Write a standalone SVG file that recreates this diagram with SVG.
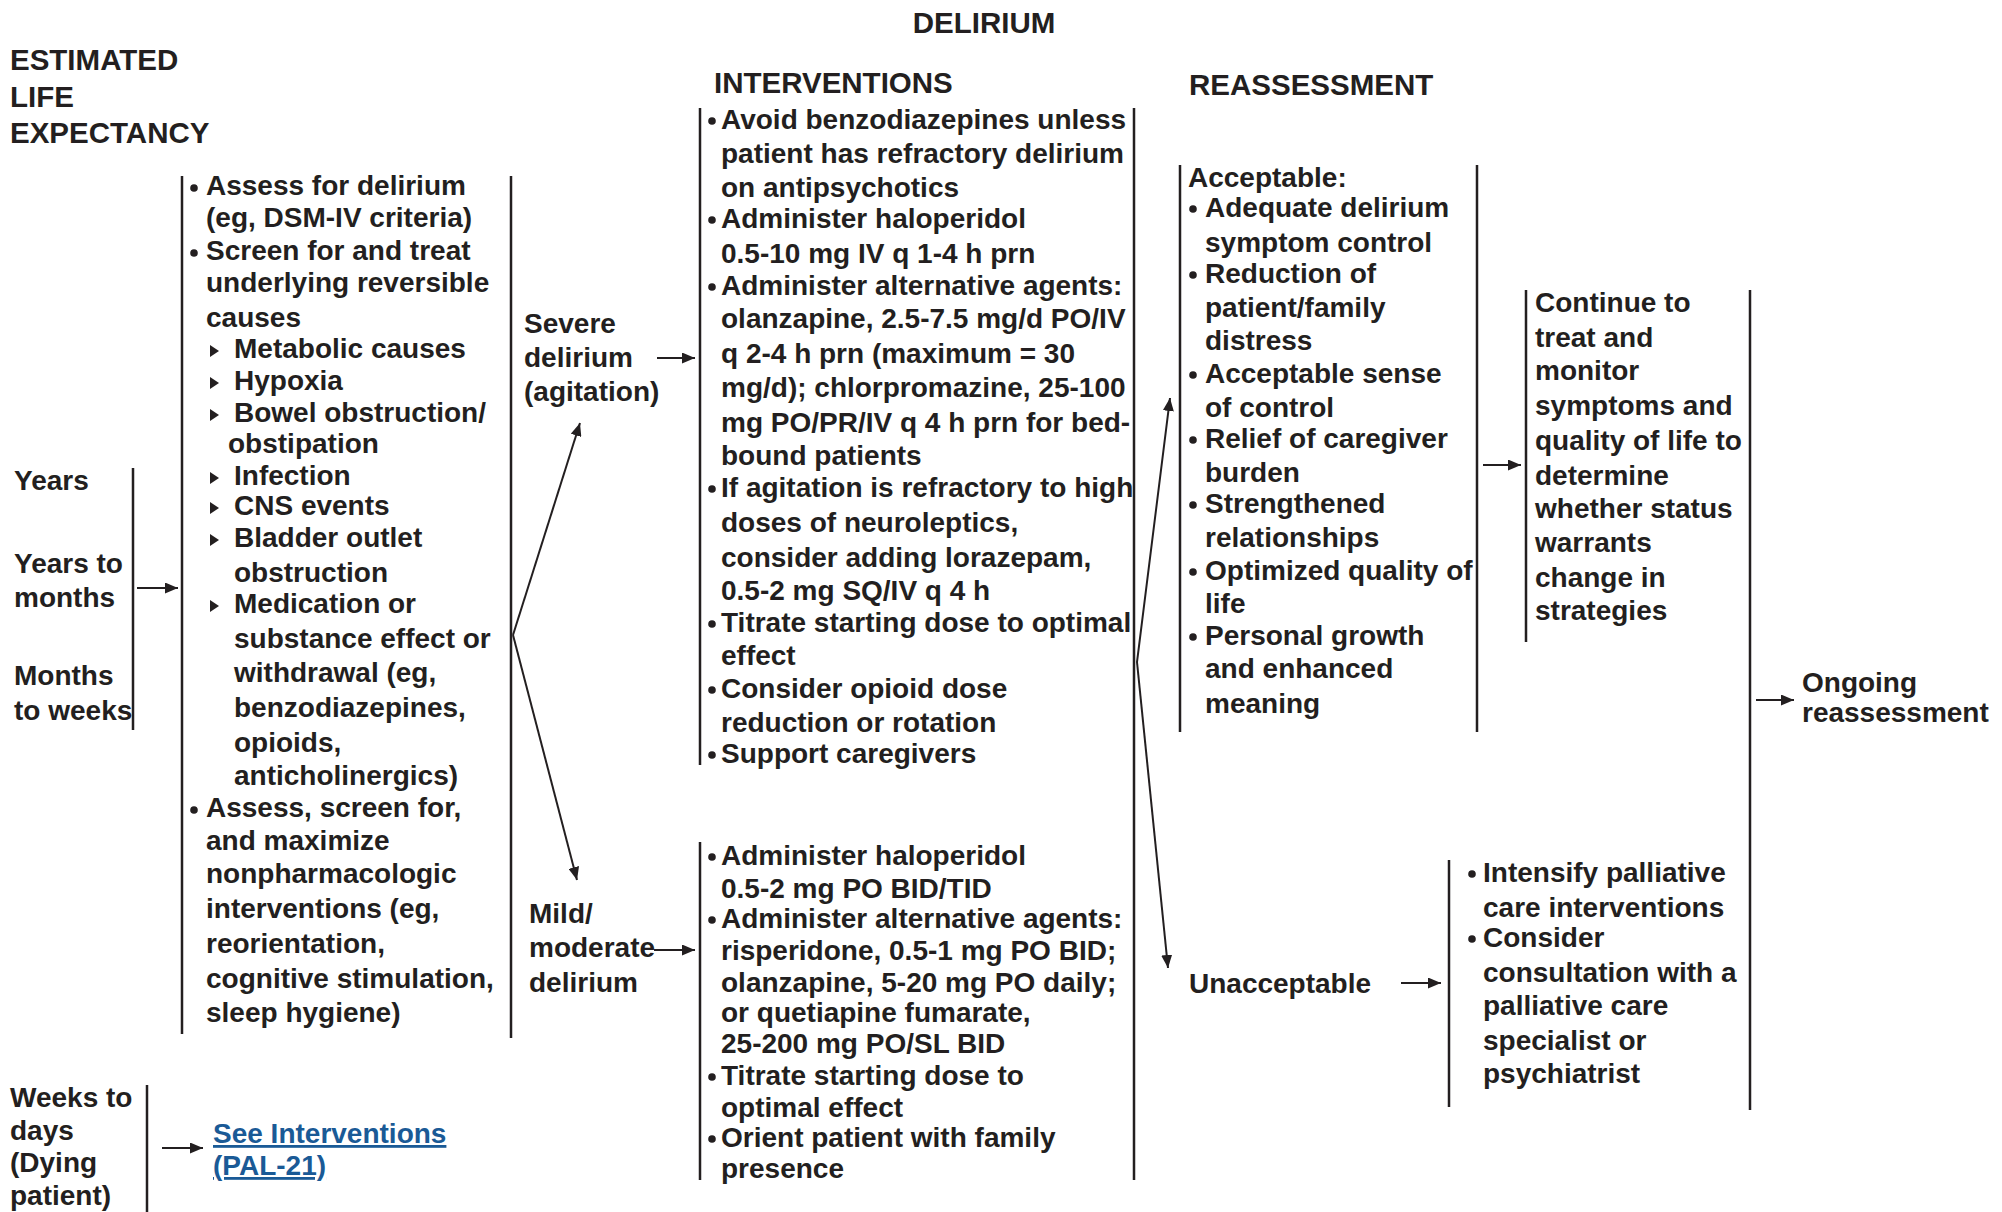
<svg xmlns="http://www.w3.org/2000/svg" width="2002" height="1212" viewBox="0 0 2002 1212">
  <defs>
    <style>
      .t { font-family: "Liberation Sans", Arial, Helvetica, sans-serif; font-weight: bold; font-size: 28px; fill: #231f20; }
      .h { font-size: 29.5px; }
      .link { fill: #1a5a96; text-decoration: underline; }
      .bar { stroke: #231f20; stroke-width: 2.5; fill: none; }
      .cn { stroke: #231f20; stroke-width: 2; fill: none; marker-end: url(#ah); }
      .dot { fill: #231f20; }
      .tri { fill: #231f20; }
    </style>
    <marker id="ah" markerUnits="userSpaceOnUse" markerWidth="13" markerHeight="11" refX="13" refY="5.5" orient="auto">
      <path d="M0,0 L13,5.5 L0,11 z" fill="#231f20"/>
    </marker>
    <circle id="b" r="3.8" class="dot"/>
    <path id="st" d="M-4,-6 L5,0 L-4,6 z" class="tri"/>
  </defs>
  <rect width="2002" height="1212" fill="#ffffff"/>

  <!-- headings -->
  <g id="headings" class="t h">
    <text x="984" y="33" text-anchor="middle">DELIRIUM</text>
    <text x="10" y="70">ESTIMATED</text>
    <text x="10" y="107">LIFE</text>
    <text x="10" y="143">EXPECTANCY</text>
    <text x="714" y="93">INTERVENTIONS</text>
    <text x="1189" y="95">REASSESSMENT</text>
  </g>

  <!-- life expectancy: years to weeks -->
  <g id="years">
    <text class="t" x="14" y="490">Years</text>
    <text class="t" x="14" y="573">Years to</text>
    <text class="t" x="14" y="607">months</text>
    <text class="t" x="14" y="685">Months</text>
    <text class="t" x="14" y="720">to weeks</text>
    <line class="bar" x1="133" y1="468" x2="133" y2="730"/>
  </g>

  <!-- life expectancy: weeks to days -->
  <g id="weeks">
    <text class="t" x="10" y="1107">Weeks to</text>
    <text class="t" x="10" y="1140">days</text>
    <text class="t" x="10" y="1172">(Dying</text>
    <text class="t" x="10" y="1205">patient)</text>
    <line class="bar" x1="147" y1="1085" x2="147" y2="1212"/>
  </g>

  <!-- cross reference -->
  <g id="see-pal21">
    <text class="t link" x="213" y="1143">See Interventions</text>
    <text class="t link" x="213" y="1175">(PAL-21)</text>
  </g>

  <!-- assessment and general measures -->
  <g id="assess">
    <line class="bar" x1="182" y1="176" x2="182" y2="1034"/>
    <line class="bar" x1="511" y1="176" x2="511" y2="1038"/>
    <use href="#b" x="194" y="188"/>
    <use href="#b" x="194" y="253"/>
    <use href="#b" x="194" y="810"/>
    <use href="#st" x="214" y="351"/>
    <use href="#st" x="214" y="383"/>
    <use href="#st" x="214" y="415"/>
    <use href="#st" x="214" y="478"/>
    <use href="#st" x="214" y="508"/>
    <use href="#st" x="214" y="540"/>
    <use href="#st" x="214" y="606"/>
    <g class="t">
      <text x="206" y="195">Assess for delirium</text>
      <text x="206" y="227">(eg, DSM-IV criteria)</text>
      <text x="206" y="260">Screen for and treat</text>
      <text x="206" y="292">underlying reversible</text>
      <text x="206" y="327">causes</text>
      <text x="234" y="358">Metabolic causes</text>
      <text x="234" y="390">Hypoxia</text>
      <text x="234" y="422">Bowel obstruction/</text>
      <text x="228" y="453">obstipation</text>
      <text x="234" y="485">Infection</text>
      <text x="234" y="515">CNS events</text>
      <text x="234" y="547">Bladder outlet</text>
      <text x="234" y="582">obstruction</text>
      <text x="234" y="613">Medication or</text>
      <text x="234" y="648">substance effect or</text>
      <text x="234" y="682">withdrawal (eg,</text>
      <text x="234" y="717">benzodiazepines,</text>
      <text x="234" y="752">opioids,</text>
      <text x="234" y="785">anticholinergics)</text>
      <text x="206" y="817">Assess, screen for,</text>
      <text x="206" y="850">and maximize</text>
      <text x="206" y="883">nonpharmacologic</text>
      <text x="206" y="918">interventions (eg,</text>
      <text x="206" y="953">reorientation,</text>
      <text x="206" y="988">cognitive stimulation,</text>
      <text x="206" y="1022">sleep hygiene)</text>
    </g>
  </g>

  <!-- severity labels -->
  <g id="severe">
    <text class="t" x="524" y="333">Severe</text>
    <text class="t" x="524" y="367">delirium</text>
    <text class="t" x="524" y="401">(agitation)</text>
  </g>
  <g id="mild">
    <text class="t" x="529" y="923">Mild/</text>
    <text class="t" x="529" y="957">moderate</text>
    <text class="t" x="529" y="992">delirium</text>
  </g>

  <!-- interventions for severe delirium -->
  <g id="int-severe">
    <line class="bar" x1="700" y1="108" x2="700" y2="765"/>
    <use href="#b" x="712" y="121"/>
    <use href="#b" x="712" y="220"/>
    <use href="#b" x="712" y="287"/>
    <use href="#b" x="712" y="489"/>
    <use href="#b" x="712" y="624"/>
    <use href="#b" x="712" y="690"/>
    <use href="#b" x="712" y="755"/>
    <g class="t">
      <text x="721" y="129">Avoid benzodiazepines unless</text>
      <text x="721" y="163">patient has refractory delirium</text>
      <text x="721" y="197">on antipsychotics</text>
      <text x="721" y="228">Administer haloperidol</text>
      <text x="721" y="263">0.5-10 mg IV q 1-4 h prn</text>
      <text x="721" y="295">Administer alternative agents:</text>
      <text x="721" y="328">olanzapine, 2.5-7.5 mg/d PO/IV</text>
      <text x="721" y="363">q 2-4 h prn (maximum = 30</text>
      <text x="721" y="397">mg/d); chlorpromazine, 25-100</text>
      <text x="721" y="432">mg PO/PR/IV q 4 h prn for bed-</text>
      <text x="721" y="465">bound patients</text>
      <text x="721" y="497">If agitation is refractory to high</text>
      <text x="721" y="532">doses of neuroleptics,</text>
      <text x="721" y="567">consider adding lorazepam,</text>
      <text x="721" y="600">0.5-2 mg SQ/IV q 4 h</text>
      <text x="721" y="632">Titrate starting dose to optimal</text>
      <text x="721" y="665">effect</text>
      <text x="721" y="698">Consider opioid dose</text>
      <text x="721" y="732">reduction or rotation</text>
      <text x="721" y="763">Support caregivers</text>
    </g>
  </g>

  <!-- interventions for mild/moderate delirium -->
  <g id="int-mild">
    <line class="bar" x1="700" y1="842" x2="700" y2="1180"/>
    <use href="#b" x="712" y="857"/>
    <use href="#b" x="712" y="920"/>
    <use href="#b" x="712" y="1077"/>
    <use href="#b" x="712" y="1139"/>
    <g class="t">
      <text x="721" y="865">Administer haloperidol</text>
      <text x="721" y="898">0.5-2 mg PO BID/TID</text>
      <text x="721" y="928">Administer alternative agents:</text>
      <text x="721" y="960">risperidone, 0.5-1 mg PO BID;</text>
      <text x="721" y="992">olanzapine, 5-20 mg PO daily;</text>
      <text x="721" y="1022">or quetiapine fumarate,</text>
      <text x="721" y="1053">25-200 mg PO/SL BID</text>
      <text x="721" y="1085">Titrate starting dose to</text>
      <text x="721" y="1117">optimal effect</text>
      <text x="721" y="1147">Orient patient with family</text>
      <text x="721" y="1178">presence</text>
    </g>
  </g>

  <!-- shared right edge of the interventions column -->
  <g id="int-edge">
    <line class="bar" x1="1134" y1="108" x2="1134" y2="1180"/>
  </g>

  <!-- acceptable outcome -->
  <g id="acceptable">
    <line class="bar" x1="1180" y1="165" x2="1180" y2="732"/>
    <line class="bar" x1="1477" y1="165" x2="1477" y2="732"/>
    <use href="#b" x="1193" y="209"/>
    <use href="#b" x="1193" y="275"/>
    <use href="#b" x="1193" y="375"/>
    <use href="#b" x="1193" y="440"/>
    <use href="#b" x="1193" y="505"/>
    <use href="#b" x="1193" y="572"/>
    <use href="#b" x="1193" y="637"/>
    <g class="t">
      <text x="1188" y="187">Acceptable:</text>
      <text x="1205" y="217">Adequate delirium</text>
      <text x="1205" y="252">symptom control</text>
      <text x="1205" y="283">Reduction of</text>
      <text x="1205" y="317">patient/family</text>
      <text x="1205" y="350">distress</text>
      <text x="1205" y="383">Acceptable sense</text>
      <text x="1205" y="417">of control</text>
      <text x="1205" y="448">Relief of caregiver</text>
      <text x="1205" y="482">burden</text>
      <text x="1205" y="513">Strengthened</text>
      <text x="1205" y="547">relationships</text>
      <text x="1205" y="580">Optimized quality of</text>
      <text x="1205" y="613">life</text>
      <text x="1205" y="645">Personal growth</text>
      <text x="1205" y="678">and enhanced</text>
      <text x="1205" y="713">meaning</text>
    </g>
  </g>

  <!-- unacceptable outcome -->
  <g id="unacceptable">
    <text class="t" x="1189" y="993">Unacceptable</text>
  </g>

  <!-- continue to treat -->
  <g id="continue">
    <line class="bar" x1="1526" y1="290" x2="1526" y2="642"/>
    <g class="t">
      <text x="1535" y="312">Continue to</text>
      <text x="1535" y="347">treat and</text>
      <text x="1535" y="380">monitor</text>
      <text x="1535" y="415">symptoms and</text>
      <text x="1535" y="450">quality of life to</text>
      <text x="1535" y="485">determine</text>
      <text x="1535" y="518">whether status</text>
      <text x="1535" y="552">warrants</text>
      <text x="1535" y="587">change in</text>
      <text x="1535" y="620">strategies</text>
    </g>
  </g>

  <!-- intensify palliative care -->
  <g id="intensify">
    <line class="bar" x1="1449" y1="860" x2="1449" y2="1107"/>
    <use href="#b" x="1472" y="874"/>
    <use href="#b" x="1472" y="939"/>
    <g class="t">
      <text x="1483" y="882">Intensify palliative</text>
      <text x="1483" y="917">care interventions</text>
      <text x="1483" y="947">Consider</text>
      <text x="1483" y="982">consultation with a</text>
      <text x="1483" y="1015">palliative care</text>
      <text x="1483" y="1050">specialist or</text>
      <text x="1483" y="1083">psychiatrist</text>
    </g>
  </g>

  <!-- shared right edge before ongoing reassessment -->
  <g id="outcome-edge">
    <line class="bar" x1="1750" y1="290" x2="1750" y2="1110"/>
  </g>

  <g id="ongoing">
    <text class="t" x="1802" y="692">Ongoing</text>
    <text class="t" x="1802" y="722">reassessment</text>
  </g>

  <!-- connectors -->
  <g id="connectors">
    <line class="cn" x1="137" y1="588" x2="178" y2="588"/>
    <line class="cn" x1="162" y1="1148" x2="203" y2="1148"/>
    <line class="cn" x1="513" y1="635" x2="580" y2="423"/>
    <line class="cn" x1="513" y1="635" x2="577" y2="880"/>
    <line class="cn" x1="657" y1="358" x2="695" y2="358"/>
    <line class="cn" x1="654" y1="950" x2="695" y2="950"/>
    <line class="cn" x1="1137" y1="662" x2="1170" y2="398"/>
    <line class="cn" x1="1137" y1="662" x2="1168" y2="968"/>
    <line class="cn" x1="1483" y1="465" x2="1521" y2="465"/>
    <line class="cn" x1="1401" y1="983" x2="1441" y2="983"/>
    <line class="cn" x1="1756" y1="700" x2="1794" y2="700"/>
  </g>
</svg>
